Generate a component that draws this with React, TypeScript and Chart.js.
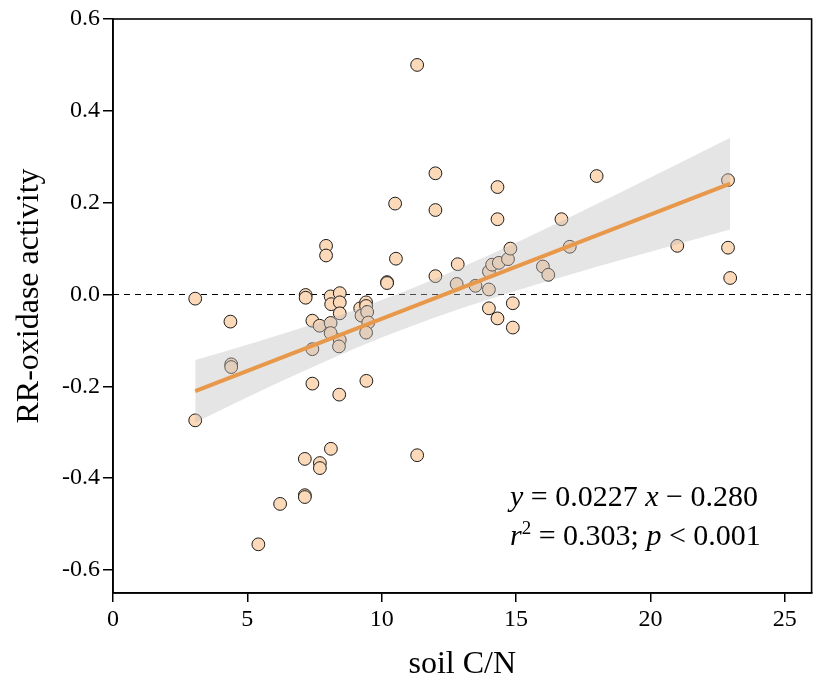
import React, { useEffect, useRef } from "react";
import { Chart, registerables } from "chart.js";

Chart.register(...registerables);

const FONT = "'Liberation Serif', 'DejaVu Serif', serif";

// scatter observations: soil C/N (x) and RR-oxidase activity (y)
const soilCN = [
  3.06, 3.06, 4.37, 4.4, 4.4, 5.41, 6.22, 7.14, 7.14, 7.14,
  7.17, 7.17, 7.42, 7.42, 7.42, 7.69, 7.7, 7.7, 7.93, 7.93,
  8.1, 8.12, 8.1, 8.1, 8.11, 8.44, 8.44, 8.44, 8.44, 8.41,
  8.42, 9.2, 9.25, 9.42, 9.42, 9.46, 9.5, 9.42, 9.43, 10.2,
  10.2, 10.53, 10.5, 11.32, 11.32, 12.0, 12.0, 12.0, 12.83, 12.79,
  13.49, 13.99, 13.99, 14.11, 14.36, 14.7, 14.79, 14.31, 14.31, 13.99,
  14.31, 14.88, 14.88, 16.0, 16.2, 16.69, 17.0, 18.0, 21.0, 22.89,
  22.89, 22.97,
];
const rrActivity = [
  -0.009, -0.274, -0.059, -0.152, -0.158, -0.544, -0.456, -0.437, -0.441, -0.358,
  -0.001, -0.007, -0.057, -0.119, -0.194, -0.068, -0.367, -0.378, 0.106, 0.085,
  -0.004, -0.021, -0.062, -0.084, -0.336, 0.003, -0.017, -0.041, -0.099, -0.113,
  -0.218, -0.030, -0.046, -0.017, -0.025, -0.038, -0.061, -0.083, -0.188, 0.027,
  0.025, 0.078, 0.198, 0.5, -0.35, 0.264, 0.184, 0.04, 0.066, 0.023,
  0.019, 0.011, 0.05, 0.065, 0.069, 0.077, 0.1, 0.234, 0.164, -0.03,
  -0.052, -0.019, -0.072, 0.061, 0.043, 0.164, 0.104, 0.258, 0.106, 0.249,
  0.102, 0.036,
];

// fitted line end points (y = 0.0227 x - 0.280)
const fitX = [3.06, 22.97];
const fitY = [-0.2105, 0.2414];

// confidence band
const bandX = [3.06, 4, 5, 6, 7, 8, 9, 10, 11, 12, 13, 14, 15, 16, 17, 18, 19, 20, 21, 22, 22.97];
const bandLower = [
  -0.2785, -0.2518, -0.2237, -0.1961, -0.1691, -0.143, -0.1178, -0.0938, -0.0711, -0.0497,
  -0.0295, -0.0102, 0.0082, 0.026, 0.0433, 0.0603, 0.0769, 0.0934, 0.1097, 0.1258, 0.1414,
];
const bandUpper = [
  -0.1425, -0.1266, -0.1093, -0.0915, -0.0731, -0.0538, -0.0336, -0.0122, 0.0105, 0.0345,
  0.0597, 0.0858, 0.1128, 0.1404, 0.1685, 0.1969, 0.2257, 0.2546, 0.2837, 0.313, 0.3414,
];

const xTicks = [0, 5, 10, 15, 20, 25];
const yTicks = [-0.6, -0.4, -0.2, 0, 0.2, 0.4, 0.6];

const xLabel = "soil C/N";
const yLabel = "RR-oxidase activity";
const eqLine1 = [
  { t: "y", i: true },
  { t: " = 0.0227 " },
  { t: "x", i: true },
  { t: " \u2212 0.280" },
];
const eqLine2 = [
  { t: "r", i: true },
  { t: "2", sup: true },
  { t: " = 0.303; " },
  { t: "p", i: true },
  { t: " < 0.001" },
];

type Seg = { t: string; i?: boolean; sup?: boolean };

function drawSegs(ctx: CanvasRenderingContext2D, x: number, y: number, segs: Seg[], size: number) {
  let cx = x;
  for (const s of segs) {
    const fs = s.sup ? Math.round(size * 0.62) : size;
    ctx.font = `${s.i ? "italic " : ""}${fs}px ${FONT}`;
    const dy = s.sup ? -size * 0.38 : 0;
    ctx.fillText(s.t, cx, y + dy);
    cx += ctx.measureText(s.t).width;
  }
}

const framePlugin = {
  id: "frame",
  afterDraw(chart: any) {
    const { ctx, chartArea: a } = chart;
    ctx.save();
    ctx.strokeStyle = "#000";
    ctx.lineWidth = 1.6;
    ctx.strokeRect(a.left, a.top, a.right - a.left, a.bottom - a.top);
    ctx.fillStyle = "#000";
    ctx.textBaseline = "alphabetic";
    ctx.textAlign = "left";
    drawSegs(ctx, a.left + 397, a.top + 487, eqLine1, 30);
    drawSegs(ctx, a.left + 397, a.top + 526, eqLine2, 30);
    // y axis title
    ctx.save();
    ctx.translate(30, a.top + 277);
    ctx.rotate(-Math.PI / 2);
    ctx.textAlign = "center";
    ctx.textBaseline = "middle";
    ctx.font = `32px ${FONT}`;
    ctx.fillText(yLabel, 0, 0);
    ctx.restore();
    ctx.restore();
  },
};

export default function App() {
  const ref = useRef<HTMLCanvasElement | null>(null);

  useEffect(() => {
    document.body.style.margin = "0";
    const canvas = ref.current;
    if (!canvas) return;

    const points = soilCN.map((x, i) => ({ x, y: rrActivity[i] }));
    const chart = new Chart(canvas, {
      type: "scatter",
      data: {
        datasets: [
          {
            type: "line",
            data: [
              { x: 0, y: 0 },
              { x: 26, y: 0 },
            ],
            borderColor: "#000",
            borderWidth: 1.2,
            borderDash: [6, 5],
            pointRadius: 0,
            fill: false,
            order: 5,
          } as any,
          {
            type: "scatter",
            data: points,
            backgroundColor: "rgb(252,217,185)",
            borderColor: "#1a1a1a",
            borderWidth: 1,
            pointRadius: 6.4,
            order: 4,
          },
          {
            type: "line",
            data: bandX.map((x, i) => ({ x, y: bandUpper[i] })),
            borderWidth: 0,
            borderColor: "rgba(0,0,0,0)",
            pointRadius: 0,
            fill: "+1",
            backgroundColor: "rgba(190,190,190,0.4)",
            order: 3,
          } as any,
          {
            type: "line",
            data: bandX.map((x, i) => ({ x, y: bandLower[i] })),
            borderWidth: 0,
            borderColor: "rgba(0,0,0,0)",
            pointRadius: 0,
            fill: false,
            order: 3,
          } as any,
          {
            type: "line",
            data: fitX.map((x, i) => ({ x, y: fitY[i] })),
            borderColor: "rgb(232,152,74)",
            borderWidth: 4,
            pointRadius: 0,
            fill: false,
            order: 1,
          } as any,
        ],
      },
      options: {
        animation: false,
        responsive: true,
        maintainAspectRatio: false,
        layout: { padding: { top: 19, right: 4, left: 0, bottom: 0 } },
        plugins: { legend: { display: false }, tooltip: { enabled: false } },
        scales: {
          x: {
            type: "linear",
            min: 0,
            max: 26,
            afterBuildTicks: (s: any) => {
              s.ticks = xTicks.map((v) => ({ value: v }));
            },
            afterFit: (s: any) => {
              s.height = 104;
            },
            grid: { drawOnChartArea: false, drawTicks: true, tickLength: 9, color: "#000", lineWidth: 1.5 },
            border: { display: true, color: "#000", width: 1.6 },
            ticks: {
              color: "#000",
              font: { family: FONT, size: 24 },
              padding: 3,
              maxRotation: 0,
              callback: (v: any) => String(v),
            },
            title: {
              display: true,
              text: xLabel,
              color: "#000",
              font: { family: FONT, size: 32 },
              padding: { top: 0, bottom: 13 },
            },
          },
          y: {
            type: "linear",
            min: -0.65,
            max: 0.6,
            afterBuildTicks: (s: any) => {
              s.ticks = yTicks.map((v) => ({ value: v }));
            },
            afterFit: (s: any) => {
              s.width = 113;
            },
            grid: { drawOnChartArea: false, drawTicks: true, tickLength: 10, color: "#000", lineWidth: 1.5 },
            border: { display: true, color: "#000", width: 1.6 },
            ticks: {
              color: "#000",
              font: { family: FONT, size: 24 },
              padding: 3,
              callback: (v: any) => Number(v).toFixed(1),
            },
            title: { display: false },
          },
        },
      },
      plugins: [framePlugin],
    });

    return () => chart.destroy();
  }, []);

  return (
    <div style={{ width: 819, height: 697, position: "relative" }}>
      <canvas ref={ref} />
    </div>
  );
}
